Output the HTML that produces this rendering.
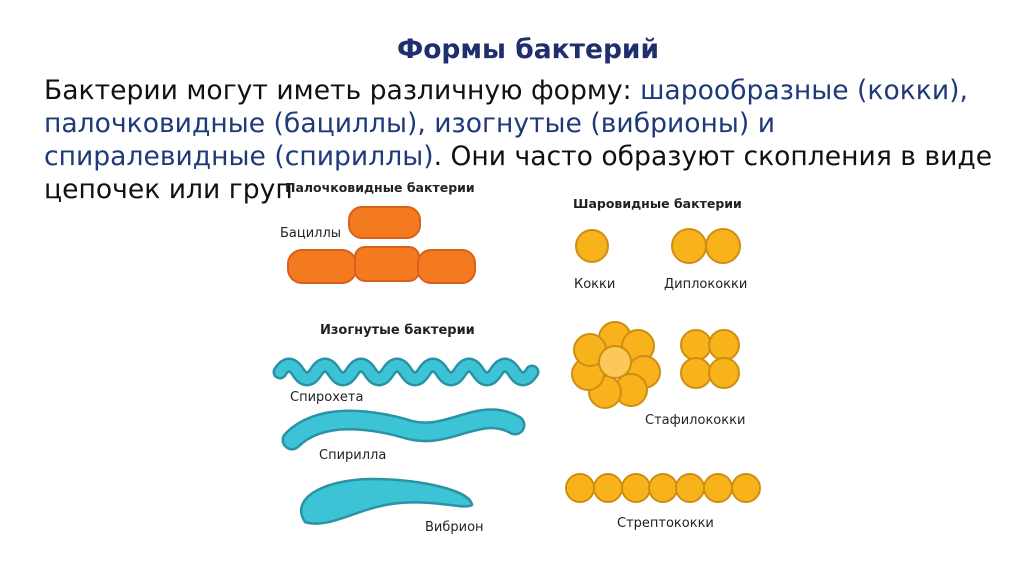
<!DOCTYPE html>
<html><head><meta charset="utf-8"><style>
html,body{margin:0;padding:0;background:#fff;}
svg{display:block;}
</style></head><body>
<svg width="1024" height="576" viewBox="0 0 1024 576" xmlns="http://www.w3.org/2000/svg">
<rect width="1024" height="576" fill="#fff"/>
<text x="528" y="58" text-anchor="middle" font-family="DejaVu Sans, sans-serif" font-weight="bold" font-size="26.5" fill="#1f2f6e">Формы бактерий</text>
<g font-family="DejaVu Sans, sans-serif" font-size="26.6">
<text x="44" y="99" fill="#111">Бактерии могут иметь различную форму: <tspan fill="#1f3a7a">шарообразные (кокки),</tspan></text>
<text x="44" y="132" fill="#1f3a7a">палочковидные (бациллы), изогнутые (вибрионы) и</text>
<text x="44" y="165" fill="#1f3a7a">спиралевидные (спириллы)<tspan fill="#111">. Они часто образуют скопления в виде</tspan></text>
<text x="44" y="198" fill="#111">цепочек или групп.</text>
</g>
<rect x="292" y="180" width="220" height="24" fill="#fff"/>
<g font-family="DejaVu Sans, sans-serif" fill="#222">
<text x="285" y="192" font-size="12.5" font-weight="bold">Палочковидные бактерии</text>
<text x="280" y="237" font-size="13">Бациллы</text>
<text x="320" y="334" font-size="13" font-weight="bold">Изогнутые бактерии</text>
<text x="290" y="401" font-size="13">Спирохета</text>
<text x="319" y="459" font-size="13">Спирилла</text>
<text x="425" y="531" font-size="13">Вибрион</text>
<text x="573" y="208" font-size="12.5" font-weight="bold">Шаровидные бактерии</text>
<text x="574" y="288" font-size="13">Кокки</text>
<text x="664" y="288" font-size="13">Диплококки</text>
<text x="645" y="424" font-size="13">Стафилококки</text>
<text x="617" y="527" font-size="13">Стрептококки</text>
</g>
<g fill="#f47a20" stroke="#d9601a" stroke-width="2">
<rect x="349" y="207" width="71" height="31" rx="13"/>
<rect x="288" y="250" width="68" height="33" rx="14"/>
<rect x="355" y="247" width="64" height="34" rx="10"/>
<rect x="418" y="250" width="57" height="33" rx="13"/>
</g>
<g fill="none" stroke-linecap="round">
<path d="M280,372 q9,-14 18,0 t18,0 t18,0 t18,0 t18,0 t18,0 t18,0 t18,0 t18,0 t18,0 t18,0 t18,0 t18,0 t18,0" stroke="#2a93a3" stroke-width="15"/>
<path d="M280,372 q9,-14 18,0 t18,0 t18,0 t18,0 t18,0 t18,0 t18,0 t18,0 t18,0 t18,0 t18,0 t18,0 t18,0 t18,0" stroke="#3cc3d6" stroke-width="10"/>
<path d="M292,440 C320,412 370,418 410,430 C450,440 480,405 515,425" stroke="#2a93a3" stroke-width="21"/>
<path d="M292,440 C320,412 370,418 410,430 C450,440 480,405 515,425" stroke="#3cc3d6" stroke-width="16"/>
</g>
<path d="M305,522 C290,500 320,480 370,479 C420,479 470,490 472,505 C465,510 440,500 400,503 C360,506 330,530 305,522 Z" fill="#3cc3d6" stroke="#2a93a3" stroke-width="2.5"/>
<g fill="#f7b21c" stroke="#cf8e12" stroke-width="2">
<circle cx="592" cy="246" r="16"/>
<circle cx="689" cy="246" r="17"/>
<circle cx="723" cy="246" r="17"/>
<circle cx="615" cy="338" r="16"/><circle cx="638" cy="346" r="16"/><circle cx="644" cy="372" r="16"/><circle cx="631" cy="390" r="16"/><circle cx="605" cy="392" r="16"/><circle cx="588" cy="374" r="16"/><circle cx="590" cy="350" r="16"/>
<circle cx="615" cy="362" r="16" fill="#fcc85a"/>
<circle cx="696" cy="345" r="15"/><circle cx="724" cy="345" r="15"/><circle cx="696" cy="373" r="15"/><circle cx="724" cy="373" r="15"/>
<circle cx="580" cy="488" r="14"/><circle cx="608" cy="488" r="14"/><circle cx="636" cy="488" r="14"/><circle cx="663" cy="488" r="14"/><circle cx="690" cy="488" r="14"/><circle cx="718" cy="488" r="14"/><circle cx="746" cy="488" r="14"/>
</g>
</svg>
</body></html>
